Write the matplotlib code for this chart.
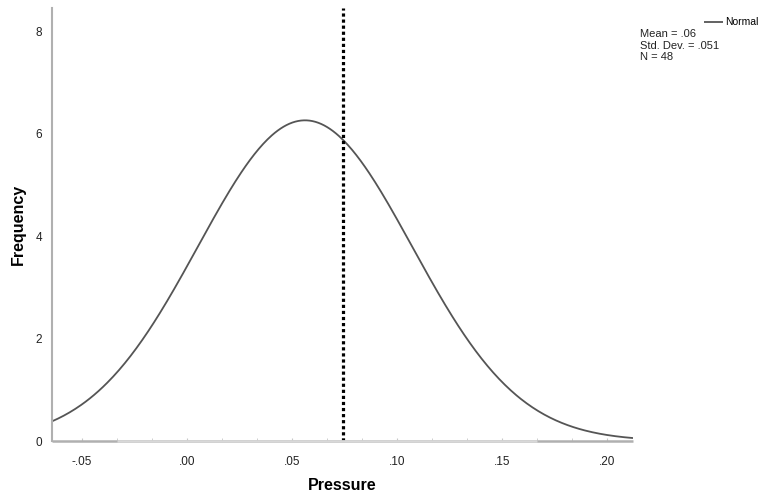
import matplotlib.pyplot as plt
import numpy as np
plt.rcParams["font.family"] = ["Liberation Sans", "DejaVu Sans"]

# summary values shown in the chart
mean = 0.0562
std_dev = 0.051
n_obs = 48
bin_width = 1 / 60.0
ref_line = 0.0743          # dotted reference line
bars_lo, bars_hi = -1 / 30.0, 1 / 6.0   # span covered by (empty) histogram bars

x_ticks = [-0.05, 0.00, 0.05, 0.10, 0.15, 0.20]
x_labels = ['-.05', '.00', '.05', '.10', '.15', '.20']
y_ticks = [0, 2, 4, 6, 8]
x_min, x_max = -0.0643, 0.2124
y_max = 8.45

fig = plt.figure(figsize=(7.63, 4.97), dpi=100)
ax = fig.add_axes([52 / 763, 1 - 441 / 497, (633 - 52) / 763, (441 - 8) / 497])

# fitted normal curve
xs = np.linspace(x_min, x_max, 400)
ys = n_obs * bin_width / (std_dev * np.sqrt(2 * np.pi)) * np.exp(-0.5 * ((xs - mean) / std_dev) ** 2)
ax.plot(xs, ys, color='#555555', lw=1.3, label='Normal', solid_capstyle='butt')

ax.axvline(ref_line, color='black', lw=2.3, ls=(0, (1, 0.9)))

# baseline: a bit darker outside the bar span, lighter where bars sit
ax.hlines(0, x_min, x_max, color='#b0b0b0', lw=1.8, zorder=3, clip_on=False)
ax.hlines(0, bars_lo, bars_hi, color='#d8d8d8', lw=1.8, zorder=3, clip_on=False)

ax.set_xlim(x_min, x_max)
ax.set_ylim(0, y_max)
ax.set_xticks(x_ticks)
ax.set_xticklabels(x_labels)
ax.set_xticks(np.arange(-0.05, 0.2001, bin_width), minor=True)
ax.set_yticks(y_ticks)

for s in ['top', 'right', 'bottom']:
    ax.spines[s].set_visible(False)
ax.spines['left'].set_color('#b0b0b0')
ax.spines['left'].set_linewidth(1.5)
ax.tick_params(axis='y', length=0, pad=7, labelsize=8.5, labelcolor='#222222')
ax.tick_params(axis='x', which='both', length=2, direction='in', color='#c8c8c8',
               pad=11, labelsize=8.5, labelcolor='#222222')

ax.set_xlabel('Pressure', fontsize=11.5, fontweight='bold')
ax.set_ylabel('Frequency', fontsize=11.5, fontweight='bold')
ax.xaxis.set_label_coords(0.5, -0.103)
ax.yaxis.set_label_coords(-0.058, 0.5)
ax.xaxis.label.set_va('center')
ax.yaxis.label.set_va('center')

# legend and stats box
fig.legend(loc='upper left', bbox_to_anchor=(700 / 763, 1 - 13 / 497), frameon=False,
           fontsize=7.5, handlelength=1.8, handletextpad=0.25, borderaxespad=0)
fig.text(640 / 763, 1 - 29 / 497,
         'Mean = .06\nStd. Dev. = .051\nN = %d' % n_obs,
         fontsize=8, va='top', ha='left', linespacing=1.2, color='#222222')

plt.savefig('out.png', dpi=100)
